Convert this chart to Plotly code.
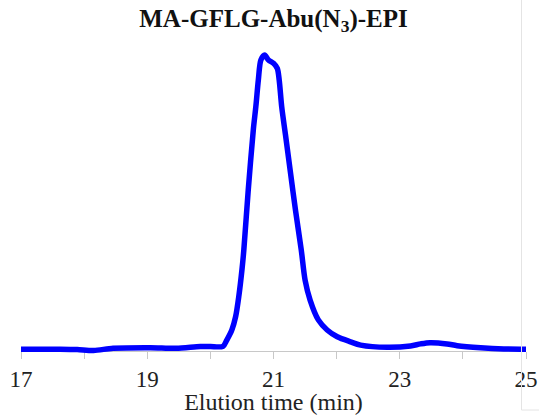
import plotly.graph_objects as go

# Chromatogram trace: elution time (min) vs detector signal (relative units)
time_min = [17.00, 17.62, 17.89, 18.15, 18.46, 19.05, 19.46, 19.84, 20.00, 20.20,
            20.26, 20.34, 20.40, 20.45, 20.50, 20.53, 20.60, 20.68, 20.72, 20.76,
            20.80, 20.86, 20.92, 21.00, 21.06, 21.09, 21.13, 21.19, 21.27, 21.35,
            21.44, 21.50, 21.58, 21.71, 21.85, 22.01, 22.22, 22.38, 22.80, 23.17,
            23.33, 23.48, 23.75, 23.91, 24.28, 24.65, 25.00]
signal = [0.6, 0.6, 0.5, 0.2, 0.9, 1.1, 0.9, 1.5, 1.5, 1.6,
          3.7, 7.1, 11.6, 18.4, 27.4, 34.1, 54.4, 74.7, 82.5, 91.6,
          98.3, 100.0, 98.3, 97.2, 95.5, 91.6, 82.5, 73.0, 60.1, 47.3,
          34.1, 24.0, 17.2, 10.5, 7.1, 4.8, 3.1, 2.0, 1.25, 1.7,
          2.4, 2.8, 2.4, 1.8, 1.1, 0.7, 0.6]

x_ticks = [17, 19, 21, 23, 25]
x_title = "Elution time (min)"
chart_title = "<b>MA-GFLG-Abu(N<sub>3</sub>)-EPI</b>"

W, H = 539, 415
m_l, m_r, m_t, m_b = 21, 13, 26, 55
plot_w = W - m_l - m_r
plot_h = H - m_t - m_b
px_per_unit = 2.96
y_low = -9 / px_per_unit
y_high = y_low + plot_h / px_per_unit
axis_pos = (0 - y_low) / (y_high - y_low)

serif = "Liberation Serif, Times New Roman, serif"

fig = go.Figure(
    go.Scatter(
        x=time_min, y=signal, mode="lines",
        line=dict(color="#0000ff", width=5.5, shape="spline", smoothing=0.8),
        hoverinfo="skip",
    )
)

frame_x = (521.5 - m_l) / plot_w
frame_y = (H - m_b - 410) / plot_h

fig.update_layout(
    width=W, height=H,
    margin=dict(l=m_l, r=m_r, t=m_t, b=m_b, autoexpand=False),
    paper_bgcolor="white", plot_bgcolor="white",
    showlegend=False,
    title=dict(text=chart_title, x=0.5, xref="paper", xanchor="center",
               y=1 - 18 / H, yref="container", yanchor="middle",
               font=dict(family=serif, size=25, color="#111111")),
    xaxis=dict(
        range=[17, 25], anchor="free", position=axis_pos, automargin=False,
        tickvals=x_ticks, ticktext=[str(v) for v in x_ticks],
        ticks="outside", ticklen=7, tickcolor="#c8c8c8", tickwidth=1,
        minor=dict(dtick=1, tick0=17, ticks="outside", ticklen=7,
                   tickcolor="#c8c8c8", tickwidth=1),
        showline=True, linecolor="#c8c8c8", linewidth=1,
        showgrid=False, zeroline=False, layer="below traces",
        ticklabelstandoff=0,
        tickfont=dict(family=serif, size=23, color="#222222"),
        title=dict(text=x_title, standoff=1,
                   font=dict(family=serif, size=24, color="#222222")),
    ),
    yaxis=dict(range=[y_low, y_high], visible=False, showgrid=False,
               zeroline=False),
    shapes=[
        dict(type="line", xref="paper", yref="paper",
             x0=frame_x, x1=frame_x, y0=(H - m_b) / plot_h, y1=frame_y,
             line=dict(color="#e4e4e4", width=1)),
        dict(type="line", xref="paper", yref="paper",
             x0=frame_x, x1=(W - m_l) / plot_w, y0=frame_y, y1=frame_y,
             line=dict(color="#e4e4e4", width=1)),
    ],
)

fig.write_html("out.html")
